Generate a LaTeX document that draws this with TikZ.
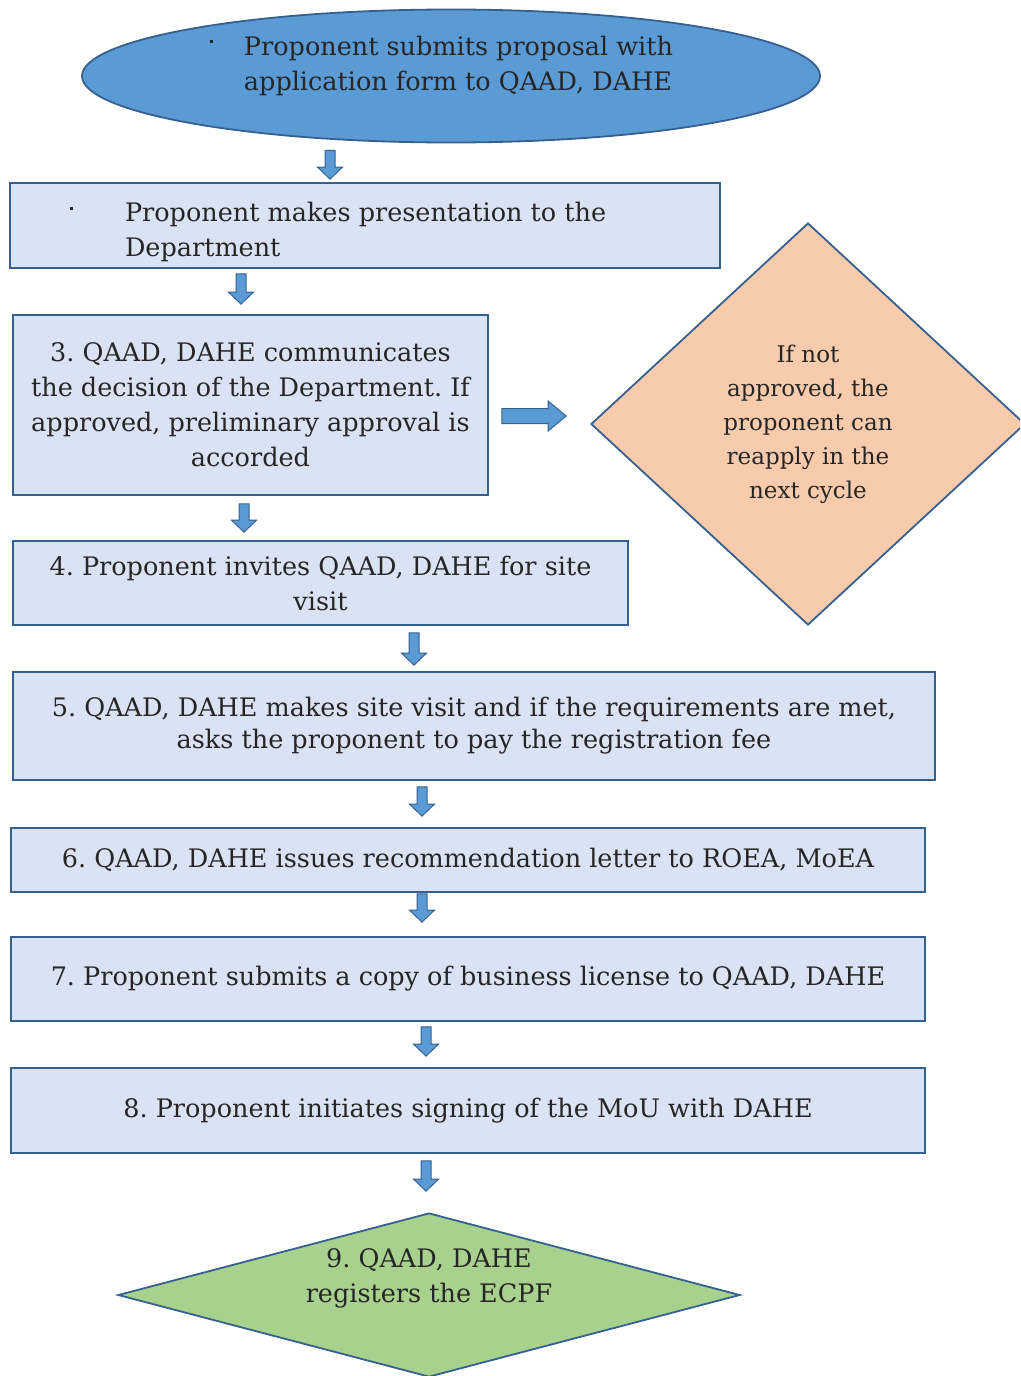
\documentclass[tikz,border=0pt]{standalone}
\usepackage{fontspec}
\setmainfont{DejaVu Serif}
\usepackage{xcolor}
\usepackage{tikz}
\usetikzlibrary{shapes.geometric,calc}
\frenchspacing

\definecolor{lineblue}{HTML}{36608F}
\definecolor{midblue}{HTML}{5B9BD5}
\definecolor{paleblue}{HTML}{DAE3F3}
\definecolor{peach}{HTML}{F8CBAD}
\definecolor{leaf}{HTML}{A9D18E}
\definecolor{ink}{HTML}{262626}

\tikzset{
  stepbox/.style={draw=lineblue, line width=1.8pt, fill=paleblue, inner sep=0pt, align=center},
  flow shaft/.initial=5pt, flow head/.initial=12.5pt, flow tip/.initial=12pt,
  % block arrow between two points, #1 and #2 are the gaps at both ends
  flow/.style 2 args={draw=lineblue, fill=midblue, line width=1pt, line join=miter,
    to path={($(\tikztostart)!#1pt!(\tikztotarget)$) coordinate (fs)
      ($(\tikztotarget)!#2pt!(\tikztostart)$) coordinate (ft)
      ($(ft)!\pgfkeysvalueof{/tikz/flow tip}!(fs)$) coordinate (fh)
      ($(fs)!\pgfkeysvalueof{/tikz/flow shaft}!90:(ft)$) -- ($(fh)!\pgfkeysvalueof{/tikz/flow shaft}!90:(ft)$)
      -- ($(fh)!\pgfkeysvalueof{/tikz/flow head}!90:(ft)$) -- (ft)
      -- ($(fh)!\pgfkeysvalueof{/tikz/flow head}!-90:(ft)$) -- ($(fh)!\pgfkeysvalueof{/tikz/flow shaft}!-90:(ft)$)
      -- ($(fs)!\pgfkeysvalueof{/tikz/flow shaft}!-90:(ft)$) -- cycle}}
}

\begin{document}
\begin{tikzpicture}[x=1pt, y=-1pt, font=\fontsize{25.5}{35}\selectfont, text=ink]
  \clip (0,0) rectangle (1020,1376);

  % Steps
  \node[ellipse, draw=lineblue, line width=1.8pt, fill=midblue, minimum width=738pt, minimum height=133pt, inner sep=0pt] (e1) at (451,76)
    {\raisebox{4pt}[0pt][0pt]{\begin{tabular}{@{}l@{\hspace{31pt}}l@{\hspace{19pt}}}\raisebox{12pt}{\rule{3pt}{3pt}} & Proponent submits proposal with\\ & application form to QAAD, DAHE\end{tabular}}};
  \node[stepbox, minimum width=710pt, minimum height=85pt] (b2) at (365,225.5)
    {\raisebox{-13pt}[0pt][0pt]{\makebox[690pt][l]{\hspace{50pt}\begin{tabular}{@{}l@{\hspace{52pt}}l@{}}\raisebox{12pt}{\rule{3pt}{3pt}} & Proponent makes presentation to the\\ & Department\end{tabular}}}};
  \node[stepbox, minimum width=475pt, minimum height=180pt] (b3) at (250.5,405)
    {3. QAAD, DAHE communicates\\the decision of the Department. If\\approved, preliminary approval is\\accorded};
  \node[stepbox, minimum width=615pt, minimum height=84pt] (b4) at (320.5,583)
    {4. Proponent invites QAAD, DAHE for site\\visit};
  \node[stepbox, minimum width=922pt, minimum height=108pt, font=\fontsize{25.5}{32}\selectfont] (b5) at (474,726)
    {5. QAAD, DAHE makes site visit and if the requirements are met,\\asks the proponent to pay the registration fee};
  \node[stepbox, minimum width=914pt, minimum height=64pt] (b6) at (468,860)
    {6. QAAD, DAHE issues recommendation letter to ROEA, MoEA};
  \node[stepbox, minimum width=914pt, minimum height=84pt] (b7) at (468,979)
    {7. Proponent submits a copy of business license to QAAD, DAHE};
  \node[stepbox, minimum width=914pt, minimum height=85pt] (b8) at (468,1110.5)
    {8. Proponent initiates signing of the MoU with DAHE};

  % Decisions
  \node[diamond, draw=lineblue, line width=1.8pt, fill=peach, minimum width=434pt, minimum height=402pt, inner sep=0pt, align=center, font=\fontsize{23}{34}\selectfont] (d3) at (808,424)
    {If not\\approved, the\\proponent can\\reapply in the\\next cycle};
  \node[diamond, aspect=3.8, draw=lineblue, line width=1.8pt, fill=leaf, minimum width=622pt, minimum height=164pt, inner sep=0pt] (d9) at (429,1295)
    {\raisebox{11pt}[0pt][0pt]{\begin{tabular}{c}9. QAAD, DAHE\\registers the ECPF\end{tabular}}};

  % Arrows
  \draw[flow={7}{3}] (e1.south -| 330,0) to (b2.north -| 330,0);
  \draw[flow={5}{10}] (b2.south -| 241,0) to (b3.north -| 241,0);
  \draw[flow={8}{8}] (b3.south -| 244,0) to (b4.north -| 244,0);
  \draw[flow={7}{6}] (b4.south -| 414,0) to (b5.north -| 414,0);
  \draw[flow={6}{11}] (b5.south -| 422,0) to (b6.north -| 422,0);
  \draw[flow={1}{14}] (b6.south -| 422,0) to (b7.north -| 422,0);
  \draw[flow={5}{11}] (b7.south -| 426,0) to (b8.north -| 426,0);
  \draw[flow={7}{21}] (b8.south -| 426,0) to (d9.north -| 426,0);
  \draw[flow={13}{24}, flow shaft=7.5pt, flow head=15pt, flow tip=18pt] (b3.east |- 0,416) to (d3.west |- 0,416);
\end{tikzpicture}
\end{document}
